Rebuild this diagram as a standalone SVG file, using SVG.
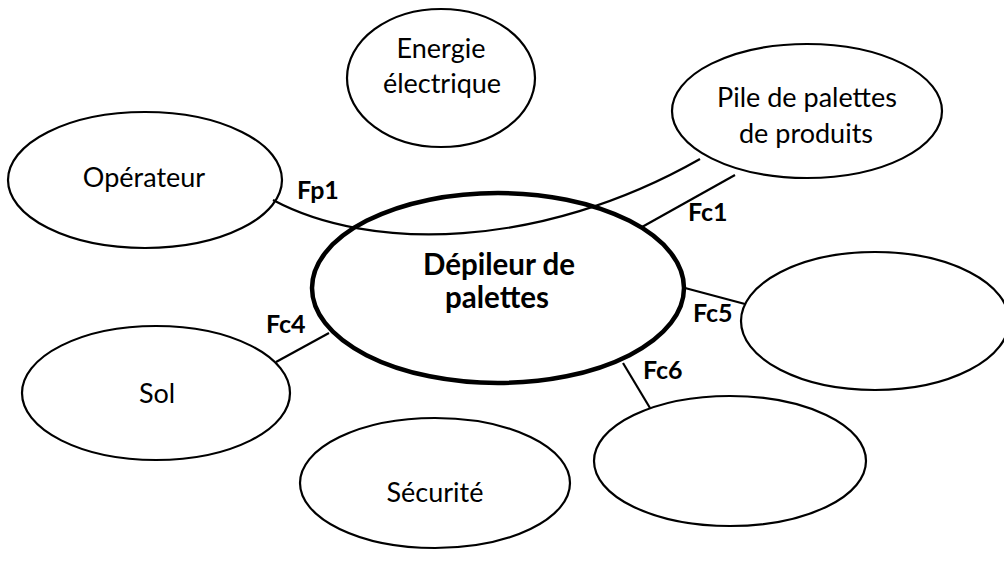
<svg xmlns="http://www.w3.org/2000/svg" width="1004" height="562" viewBox="0 0 1004 562">
<style>
.n{fill:#fff;stroke:#000;stroke-width:2.2}
.main{fill:#fff;stroke:#000;stroke-width:4.5}
.t{font-family:Lato,"Liberation Sans",sans-serif;font-size:27px;fill:#000;text-anchor:middle}
.b{font-family:Lato,"Liberation Sans",sans-serif;font-size:29.5px;font-weight:bold;fill:#000;text-anchor:middle}
.l{font-family:Lato,"Liberation Sans",sans-serif;font-size:25px;font-weight:bold;fill:#000}
.c{fill:none;stroke:#000;stroke-width:2.2}
</style>
<rect width="1004" height="562" fill="#fff"/>
<g id="energie"><ellipse class="n" cx="441" cy="78" rx="94" ry="69"/><text class="t" x="441" y="58">Energie</text><text class="t" x="442" y="93">électrique</text></g>
<g id="pile"><ellipse class="n" cx="807" cy="111" rx="135" ry="67"/><text class="t" x="807" y="107">Pile de palettes</text><text class="t" x="806" y="143">de produits</text></g>
<g id="operateur"><ellipse class="n" cx="145" cy="180" rx="137" ry="68"/><text class="t" x="144" y="187">Opérateur</text></g>
<g id="depileur"><ellipse class="main" cx="498" cy="288" rx="186" ry="95"/><text class="b" x="499" y="275">Dépileur de</text><text class="b" x="497" y="308">palettes</text></g>
<g id="droite"><ellipse class="n" cx="875" cy="321" rx="134" ry="69"/></g>
<g id="sol"><ellipse class="n" cx="156" cy="393" rx="134" ry="67"/><text class="t" x="157" y="403">Sol</text></g>
<g id="securite"><ellipse class="n" cx="435" cy="483" rx="135" ry="65"/><text class="t" x="435" y="502">Sécurité</text></g>
<g id="basdroite"><ellipse class="n" cx="730" cy="461" rx="136" ry="65"/></g>
<g id="connecteurs">
<path class="c" d="M273,200 C370,252 540,250 700,159"/>
<line class="c" x1="642" y1="227" x2="735" y2="175"/>
<line class="c" x1="276" y1="362" x2="329" y2="333"/>
<line class="c" x1="685" y1="288" x2="745" y2="304"/>
<line class="c" x1="623" y1="363" x2="650" y2="408"/>
<text class="l" x="297" y="199">Fp1</text>
<text class="l" x="688" y="221">Fc1</text>
<text class="l" x="266" y="333">Fc4</text>
<text class="l" x="693" y="322">Fc5</text>
<text class="l" x="643" y="379">Fc6</text>
</g>
</svg>
